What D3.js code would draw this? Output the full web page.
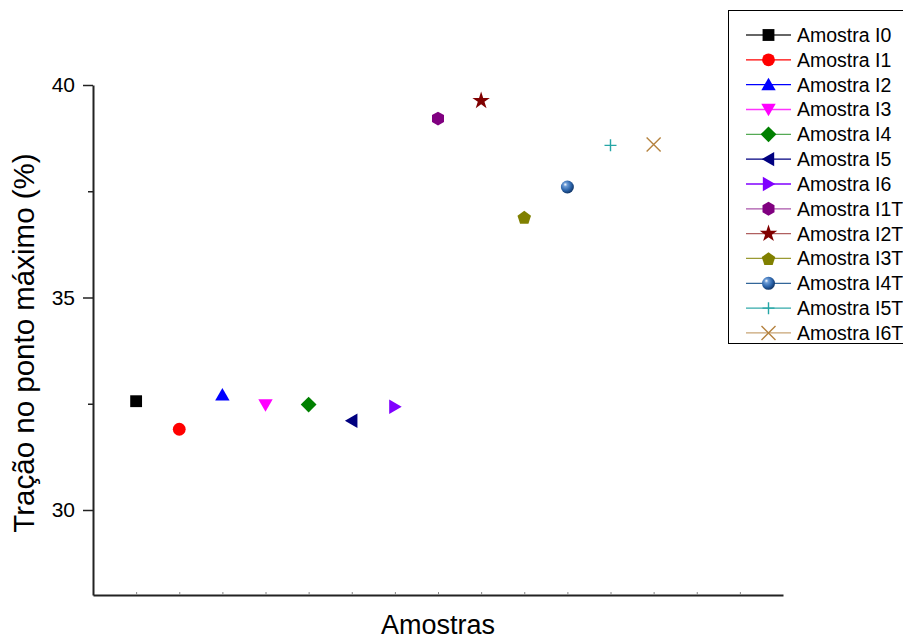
<!DOCTYPE html>
<html>
<head>
<meta charset="utf-8">
<script src="https://cdn.jsdelivr.net/npm/d3@7"></script>
<style>
body { margin: 0; background: #fff; }
text { font-family: "Liberation Sans", Arial, sans-serif; fill: #000; }
</style>
</head>
<body>
<svg id="chart" width="903" height="639"></svg>
<script>
var samples = ["Amostra I0", "Amostra I1", "Amostra I2", "Amostra I3", "Amostra I4", "Amostra I5", "Amostra I6",
               "Amostra I1T", "Amostra I2T", "Amostra I3T", "Amostra I4T", "Amostra I5T", "Amostra I6T"];
var values = [32.56, 31.90, 32.71, 32.47, 32.48, 32.10, 32.43, 39.21, 39.63, 36.89, 37.60, 38.58, 38.60];
var markerColors = ["#000000", "#ff0000", "#0000ff", "#ff00ff", "#008000", "#000080", "#8000ff",
                    "#800080", "#800000", "#808000", "#2a62a8", "#26a6a6", "#b5823f"];
var lineColors = ["#333333", "#ff0000", "#0000ff", "#ff33ff", "#55aa55", "#000080", "#8000ff",
                  "#aa55aa", "#b06060", "#9a9a33", "#336699", "#33aaaa", "#c8a474"];
var markerShapes = ["square", "circle", "up", "down", "diamond", "left", "right",
                    "hexagon", "star", "pentagon", "sphere", "plus", "cross"];
var yTicks = [30, 35, 40];
var yMinor = [32.5, 37.5];
var xTicks = d3.range(0, 15);

var svg = d3.select("#chart");
var margin = {left: 93, right: 120, top: 85, bottom: 44};
var W = +svg.attr("width"), H = +svg.attr("height");

var xAxis = d3.scaleLinear().domain([-1, 15]).range([margin.left, W - margin.right]);
var yAxis = d3.scaleLinear().domain([28, 40]).range([H - margin.bottom, margin.top]);

// sphere gradient
var defs = svg.append("defs");
var grad = defs.append("radialGradient").attr("id", "sphere")
    .attr("cx", "40%").attr("cy", "38%").attr("r", "60%").attr("fx", "33%").attr("fy", "30%");
grad.append("stop").attr("offset", "0%").attr("stop-color", "#ffffff");
grad.append("stop").attr("offset", "25%").attr("stop-color", "#6b9bd6");
grad.append("stop").attr("offset", "70%").attr("stop-color", "#2a62a8");
grad.append("stop").attr("offset", "100%").attr("stop-color", "#143a6e");

function polygon(n, rot){
    return { draw: function(ctx, size){
        var r = Math.sqrt(size / (n * Math.sin(2 * Math.PI / n) / 2));
        for (var k = 0; k < n; k++){
            var a = rot + 2 * Math.PI * k / n;
            if (k === 0) ctx.moveTo(r * Math.sin(a), -r * Math.cos(a));
            else ctx.lineTo(r * Math.sin(a), -r * Math.cos(a));
        }
        ctx.closePath();
    }};
}

function drawMarker(g, shape, color){
    var sym = d3.symbol();
    if (shape === "square"){
        g.append("path").attr("d", sym.type(d3.symbolSquare).size(140)()).attr("fill", color);
    } else if (shape === "circle"){
        g.append("circle").attr("r", 6.4).attr("fill", color);
    } else if (shape === "up" || shape === "down" || shape === "left" || shape === "right"){
        var rot = {up: 0, right: 90, down: 180, left: 270}[shape];
        g.append("path").attr("d", d3.symbol().type(polygon(3, 0)).size(90)())
            .attr("transform", "rotate(" + rot + ") translate(0,1.5)")
            .attr("fill", color);
    } else if (shape === "diamond"){
        g.append("path").attr("d", sym.type(d3.symbolSquare).size(125)())
            .attr("transform", "rotate(45)").attr("fill", color);
    } else if (shape === "hexagon"){
        g.append("path").attr("d", d3.symbol().type(polygon(6, 0)).size(125)()).attr("fill", color);
    } else if (shape === "pentagon"){
        g.append("path").attr("d", d3.symbol().type(polygon(5, 0)).size(120)())
            .attr("transform", "translate(0,0.8)").attr("fill", color);
    } else if (shape === "star"){
        g.append("path").attr("d", sym.type(d3.symbolStar).size(95)()).attr("fill", color);
    } else if (shape === "sphere"){
        g.append("circle").attr("r", 6.5).attr("fill", "url(#sphere)");
    } else if (shape === "plus"){
        g.append("path").attr("d", "M-6,0H6M0,-6V6").attr("stroke", color).attr("stroke-width", 1.4).attr("fill", "none");
    } else if (shape === "cross"){
        g.append("path").attr("d", "M-7,-7L7,7M-7,7L7,-7").attr("stroke", color).attr("stroke-width", 1.4).attr("fill", "none");
    }
}

// axes
var gx = svg.append("g")
    .attr("transform", "translate(0," + yAxis(28) + ")")
    .call(d3.axisBottom(xAxis).tickValues(xTicks).tickSizeInner(-3).tickSizeOuter(0).tickFormat(""));
gx.select(".domain").attr("stroke", "#222").attr("stroke-width", 2);
gx.selectAll(".tick line").attr("stroke", "#888").attr("stroke-width", 1);

var gy = svg.append("g")
    .attr("transform", "translate(" + xAxis(-1) + ",0)")
    .call(d3.axisLeft(yAxis).tickValues(yTicks).tickSizeInner(10).tickSizeOuter(0).tickPadding(8));
gy.select(".domain").attr("stroke", "#222").attr("stroke-width", 2);
gy.selectAll(".tick line").attr("stroke", "#222").attr("stroke-width", 1.5);
gy.selectAll(".tick text").attr("font-size", 21).attr("font-family", "Liberation Sans, Arial, sans-serif").attr("fill", "#000");

var gm = svg.append("g")
    .attr("transform", "translate(" + xAxis(-1) + ",0)")
    .call(d3.axisLeft(yAxis).tickValues(yMinor).tickSizeInner(5).tickSizeOuter(0).tickFormat(""));
gm.select(".domain").remove();
gm.selectAll(".tick line").attr("stroke", "#222").attr("stroke-width", 1.5);

// axis titles
svg.append("text")
    .attr("x", (xAxis(-1) + xAxis(15)) / 2)
    .attr("y", 634)
    .attr("text-anchor", "middle")
    .attr("font-size", 27)
    .text("Amostras");

svg.append("text")
    .attr("transform", "translate(34," + 343 + ") rotate(-90)")
    .attr("text-anchor", "middle")
    .attr("font-size", 29.5)
    .text("Tração no ponto máximo (%)");

// points
samples.forEach(function(s, i){
    var g = svg.append("g")
        .attr("transform", "translate(" + xAxis(i) + "," + yAxis(values[i]) + ")");
    drawMarker(g, markerShapes[i], markerColors[i]);
});

// legend
var leg = svg.append("g");
leg.append("rect")
    .attr("x", 728.5).attr("y", 10.5).attr("width", 200).attr("height", 333)
    .attr("fill", "#fff").attr("stroke", "#000").attr("stroke-width", 1);
samples.forEach(function(s, i){
    var yy = 35 + i * 24.83;
    var row = leg.append("g").attr("transform", "translate(0," + yy + ")");
    row.append("line").attr("x1", 746).attr("x2", 791).attr("y1", 0).attr("y2", 0)
        .attr("stroke", lineColors[i]).attr("stroke-width", 1.3);
    var mg = row.append("g").attr("transform", "translate(768.5,0)");
    drawMarker(mg, markerShapes[i], markerColors[i]);
    row.append("text").attr("x", 797).attr("y", 7).attr("font-size", 19.5).text(s);
});
</script>
</body>
</html>
